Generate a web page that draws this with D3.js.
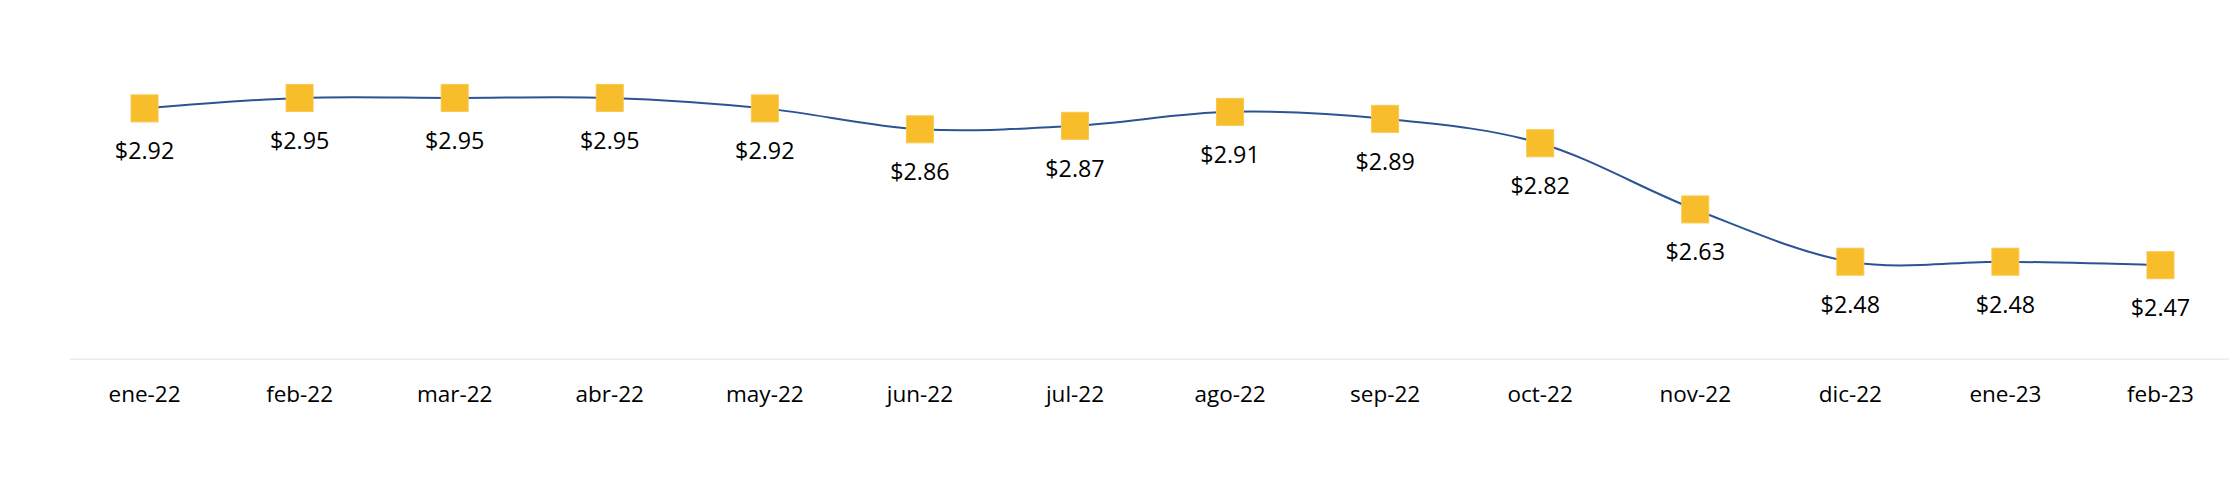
<!DOCTYPE html>
<html>
<head>
<meta charset="utf-8">
<script src="https://cdn.jsdelivr.net/npm/d3@7"></script>
<style>
  html, body { margin: 0; padding: 0; background: #ffffff; }
  svg { display: block; }
</style>
</head>
<body>
<div id="chart"></div>
<script>
const categories = ["ene-22","feb-22","mar-22","abr-22","may-22","jun-22","jul-22","ago-22","sep-22","oct-22","nov-22","dic-22","ene-23","feb-23"];
const values = [2.92, 2.95, 2.95, 2.95, 2.92, 2.86, 2.87, 2.91, 2.89, 2.82, 2.63, 2.48, 2.48, 2.47];
const yDomain = [2.2, 3.0];

const W = 2229, H = 491;
const svg = d3.select("#chart").append("svg").attr("width", W).attr("height", H);

const x = d3.scaleBand().domain(categories).range([67, 2238]).padding(0);
const y = d3.scaleLinear().domain(yDomain).range([359.3, 80.5]);
const cx = d => x(d) + x.bandwidth() / 2;

// category axis baseline
svg.append("line")
  .attr("x1", 70).attr("x2", W)
  .attr("y1", y(yDomain[0])).attr("y2", y(yDomain[0]))
  .attr("stroke", "#ECECE2").attr("stroke-width", 1.5);

// tick labels via d3 axis
const axis = svg.append("g")
  .attr("transform", `translate(0,${y(yDomain[0])})`)
  .call(d3.axisBottom(x).tickSize(0).tickPadding(0));
axis.select(".domain").remove();
axis.selectAll("text")
  .attr("y", 43).attr("dy", 0)
  .attr("font-family", "'Open Sans', sans-serif")
  .attr("font-size", 22.5)
  .attr("fill", "#000");

const pts = categories.map((c, i) => ({c, v: values[i]}));

// smoothed line
svg.append("path")
  .datum(pts)
  .attr("fill", "none")
  .attr("stroke", "#2C5494")
  .attr("stroke-width", 2)
  .attr("d", d3.line().x(d => cx(d.c)).y(d => y(d.v)).curve(d3.curveCardinal.tension(0)));

// square markers
const ms = 27;
svg.selectAll("rect.m").data(pts).enter().append("rect")
  .attr("class", "m")
  .attr("x", d => cx(d.c) - ms / 2)
  .attr("y", d => y(d.v) - ms / 2)
  .attr("width", ms).attr("height", ms)
  .attr("fill", "#F8BD2B")
  .attr("stroke", "#F9C84D").attr("stroke-width", 1);

// data labels
svg.selectAll("text.lbl").data(pts).enter().append("text")
  .attr("class", "lbl")
  .attr("x", d => cx(d.c))
  .attr("y", d => y(d.v) + 51)
  .attr("text-anchor", "middle")
  .attr("font-family", "'Open Sans', sans-serif")
  .attr("font-size", 23.3)
  .attr("fill", "#000")
  .text(d => "$" + d3.format(".2f")(d.v));
</script>
</body>
</html>
